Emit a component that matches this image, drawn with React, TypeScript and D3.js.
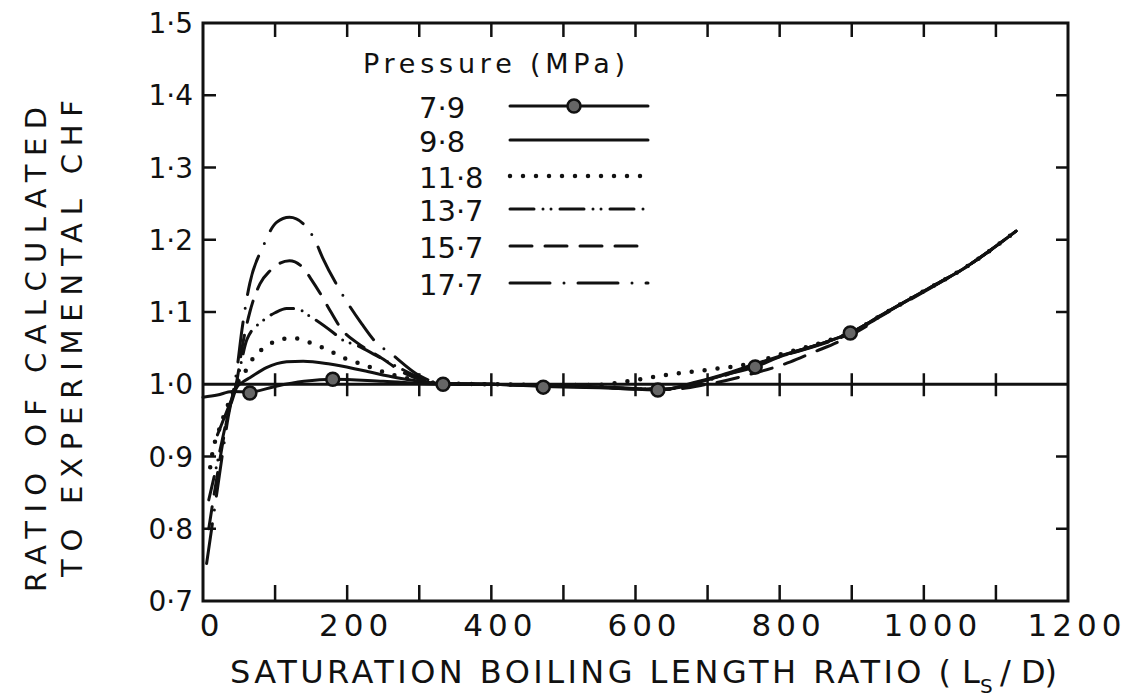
import React from 'react';
import * as d3 from 'd3';

const W = 1126;
const H = 700;

const pressureLabels = ['7·9', '9·8', '11·8', '13·7', '15·7', '17·7'];

const x79 = [0, 20, 40, 65, 100, 140, 180, 250, 333, 400, 472, 550, 600, 631, 680, 720, 766, 800, 863, 898, 940, 1009, 1055, 1128];
const y79 = [0.982, 0.985, 0.99, 0.989, 0.997, 1.004, 1.007, 1.004, 1.0, 1.0, 0.997, 0.995, 0.993, 0.992, 1.001, 1.012, 1.024, 1.038, 1.058, 1.071, 1.095, 1.134, 1.16, 1.212];

const markerX = [65, 180, 333, 472, 631, 766, 898];
const markerY = [0.988, 1.007, 1.0, 0.996, 0.992, 1.024, 1.071];

const x98 = [20, 30, 38, 47, 55, 65, 88, 116, 139, 176, 222, 269, 333, 400, 472, 550, 600, 640, 680, 720, 760, 800, 863, 898, 940, 1009, 1055, 1128];
const y98 = [0.93, 0.955, 0.975, 0.996, 1.003, 1.009, 1.023, 1.031, 1.032, 1.028, 1.019, 1.009, 1.001, 1.0, 0.998, 0.996, 0.994, 0.993, 1.002, 1.013, 1.026, 1.039, 1.058, 1.071, 1.095, 1.134, 1.16, 1.212];

const x118 = [10, 14, 21, 28, 38, 47, 62, 70, 86, 104, 125, 144, 172, 194, 220, 260, 300, 333, 400, 472, 541, 600, 650, 700, 760, 800, 863, 898, 940, 1009, 1055, 1128];
const y118 = [0.885, 0.91, 0.933, 0.954, 0.98, 1.0, 1.023, 1.037, 1.051, 1.061, 1.064, 1.059, 1.048, 1.037, 1.028, 1.014, 1.005, 1.001, 1.0, 0.999, 0.999, 1.006, 1.014, 1.02, 1.029, 1.041, 1.059, 1.071, 1.095, 1.134, 1.16, 1.212];

const x137 = [8, 15, 25, 35, 47, 54, 61, 83, 100, 116, 128, 150, 180, 194, 213, 240, 270, 301, 333, 400, 472, 550, 600, 640, 680, 720, 760, 800, 863, 898, 940, 1009, 1055, 1128];
const y137 = [0.84, 0.87, 0.915, 0.96, 1.0, 1.035, 1.062, 1.088, 1.099, 1.105, 1.105, 1.093, 1.072, 1.061, 1.054, 1.04, 1.024, 1.009, 1.001, 1.0, 0.998, 0.996, 0.994, 0.993, 1.001, 1.012, 1.025, 1.038, 1.058, 1.071, 1.095, 1.134, 1.16, 1.212];

const x157 = [8, 15, 25, 35, 47, 55, 65, 79, 93, 120, 139, 149, 166, 174, 194, 213, 245, 280, 333, 400, 472, 550, 600, 650, 700, 760, 815, 846, 880, 920];
const y157 = [0.8, 0.845, 0.905, 0.96, 1.005, 1.055, 1.1, 1.139, 1.157, 1.171, 1.161, 1.147, 1.12, 1.106, 1.074, 1.058, 1.038, 1.015, 1.001, 1.0, 0.998, 0.996, 0.993, 0.993, 1.0, 1.014, 1.031, 1.044, 1.058, 1.08];

const x177 = [5, 12, 20, 28, 35, 42, 47, 54, 61, 65, 83, 102, 120, 144, 155, 166, 190, 220, 240, 260, 300, 333, 400, 472, 550, 600, 640, 680, 720, 760, 800, 863, 898, 940, 1009, 1055, 1128];
const y177 = [0.752, 0.8, 0.855, 0.91, 0.955, 0.99, 1.02, 1.075, 1.12, 1.14, 1.19, 1.224, 1.231, 1.217, 1.2, 1.175, 1.13, 1.084, 1.058, 1.043, 1.012, 1.001, 1.0, 0.998, 0.996, 0.994, 0.993, 1.0, 1.011, 1.024, 1.038, 1.057, 1.07, 1.094, 1.133, 1.16, 1.212];

const xTickValues = [0, 200, 400, 600, 800, 1000, 1200];
const xTickLabels = ['0', '200', '400', '600', '800', '1000', '1200'];
const xMinorTicks = [100, 200, 300, 400, 500, 600, 700, 800, 900, 1000, 1100];
const yTickValues = [0.7, 0.8, 0.9, 1.0, 1.1, 1.2, 1.3, 1.4, 1.5];
const yTickLabels = ['0·7', '0·8', '0·9', '1·0', '1·1', '1·2', '1·3', '1·4', '1·5'];
const yInnerTicks = [0.8, 0.9, 1.1, 1.2, 1.3, 1.4];

const FONT = '"DejaVu Sans", sans-serif';
const INK = '#111';

type Style = { dash: string; width: number; cap: 'round' | 'butt' };
const styles: Style[] = [
  { dash: '', width: 3, cap: 'round' },
  { dash: '', width: 3, cap: 'round' },
  { dash: '0 13', width: 4.5, cap: 'round' },
  { dash: '24 9 0 8 0 9', width: 3, cap: 'round' },
  { dash: '22 13', width: 3, cap: 'round' },
  { dash: '40 14 0 14', width: 3, cap: 'round' },
];

export default function App() {
  const x = d3.scaleLinear().domain([0, 1200]).range([203, 1068]);
  const y = d3.scaleLinear().domain([0.7, 1.5]).range([601, 23]);
  const line = d3
    .line<[number, number]>()
    .x((d) => x(d[0]))
    .y((d) => y(d[1]))
    .curve(d3.curveMonotoneX);

  const seriesX = [x79, x98, x118, x137, x157, x177];
  const seriesY = [y79, y98, y118, y137, y157, y177];
  const paths = seriesX.map((xs, i) => line(xs.map((v, j) => [v, seriesY[i][j]] as [number, number])) || '');

  const [x0, x1] = x.range();
  const [yb, yt] = y.range();
  const y1 = y(1.0);

  const legendBase = [118, 152, 188, 221, 258, 295];

  return (
    <svg width={W} height={H} viewBox={`0 0 ${W} ${H}`} style={{ position: 'absolute', left: 0, top: 0, background: '#fff' }}>
      <rect x={0} y={0} width={W} height={H} fill="#fff" />
      {/* frame */}
      <rect x={x0} y={yt} width={x1 - x0} height={yb - yt} fill="none" stroke={INK} strokeWidth={3} />
      {/* top, bottom and 1.0-line ticks */}
      {xMinorTicks.map((v) => (
        <g key={'tx' + v}>
          <line x1={x(v)} x2={x(v)} y1={yt} y2={yt + 14} stroke={INK} strokeWidth={2.5} />
          <line x1={x(v)} x2={x(v)} y1={yb} y2={yb - 16} stroke={INK} strokeWidth={2.5} />
          <line x1={x(v)} x2={x(v)} y1={y1 - 11} y2={y1 + 12} stroke={INK} strokeWidth={2.5} />
        </g>
      ))}
      {/* left & right inward ticks */}
      {yInnerTicks.map((v) => (
        <g key={'ty' + v}>
          <line x1={x0} x2={x0 + 13} y1={y(v)} y2={y(v)} stroke={INK} strokeWidth={2.5} />
          <line x1={x1} x2={x1 - 12} y1={y(v)} y2={y(v)} stroke={INK} strokeWidth={2.5} />
        </g>
      ))}
      {/* 1.0 reference line */}
      <line x1={x0} x2={x1} y1={y1} y2={y1} stroke={INK} strokeWidth={3} />

      {/* y tick labels */}
      {yTickValues.map((v, i) => (
        <text key={'yl' + v} x={193} y={y(v) + 10} textAnchor="end" fontFamily={FONT} fontSize={28} fill={INK}>
          {yTickLabels[i]}
        </text>
      ))}
      {/* x tick labels */}
      {xTickValues.map((v, i) => (
        <text key={'xl' + v} x={x(v) + 9} y={636} textAnchor="middle" fontFamily={FONT} fontSize={31} letterSpacing={5} fill={INK}>
          {xTickLabels[i]}
        </text>
      ))}

      {/* x axis title */}
      <text x={230} y={683} fontFamily={FONT} fontSize={32} fill={INK} textLength={721} lengthAdjust="spacing">
        SATURATION BOILING LENGTH RATIO (
      </text>
      <text x={962} y={683} fontFamily={FONT} fontSize={32} fill={INK}>L</text>
      <text x={980} y={693} fontFamily={FONT} fontSize={20} fill={INK}>S</text>
      <text x={1000} y={683} fontFamily={FONT} fontSize={32} fill={INK}>/</text>
      <text x={1021} y={683} fontFamily={FONT} fontSize={32} fill={INK} textLength={36} lengthAdjust="spacing">D)</text>

      {/* y axis title */}
      <text transform="translate(46,592) rotate(-90)" fontFamily={FONT} fontSize={29} fill={INK} textLength={485} lengthAdjust="spacing">
        RATIO OF CALCULATED
      </text>
      <text transform="translate(82,577) rotate(-90)" fontFamily={FONT} fontSize={29} fill={INK} textLength={477} lengthAdjust="spacing">
        TO EXPERIMENTAL CHF
      </text>

      {/* curves */}
      {paths.map((d, i) => (
        <path
          key={'p' + i}
          d={d}
          fill="none"
          stroke={INK}
          strokeWidth={styles[i].width}
          strokeDasharray={styles[i].dash || undefined}
          strokeLinecap={styles[i].cap}
          strokeLinejoin="round"
        />
      ))}
      {markerX.map((v, i) => (
        <circle key={'m' + i} cx={x(v)} cy={y(markerY[i])} r={6.5} fill="#666" stroke={INK} strokeWidth={2.5} />
      ))}

      {/* legend */}
      <text x={363} y={73} fontFamily={FONT} fontSize={27} fill={INK} textLength={262} lengthAdjust="spacing">
        Pressure (MPa)
      </text>
      {pressureLabels.map((lab, i) => (
        <g key={'lg' + i}>
          <text x={419} y={legendBase[i]} fontFamily={FONT} fontSize={29} fill={INK}>
            {lab}
          </text>
          <line
            x1={510}
            x2={648}
            y1={legendBase[i] - 12}
            y2={legendBase[i] - 12}
            stroke={INK}
            strokeWidth={styles[i].width}
            strokeDasharray={styles[i].dash || undefined}
            strokeLinecap={styles[i].cap}
          />
          {i === 0 && <circle cx={574} cy={legendBase[i] - 12} r={6.5} fill="#666" stroke={INK} strokeWidth={2.5} />}
        </g>
      ))}
    </svg>
  );
}
